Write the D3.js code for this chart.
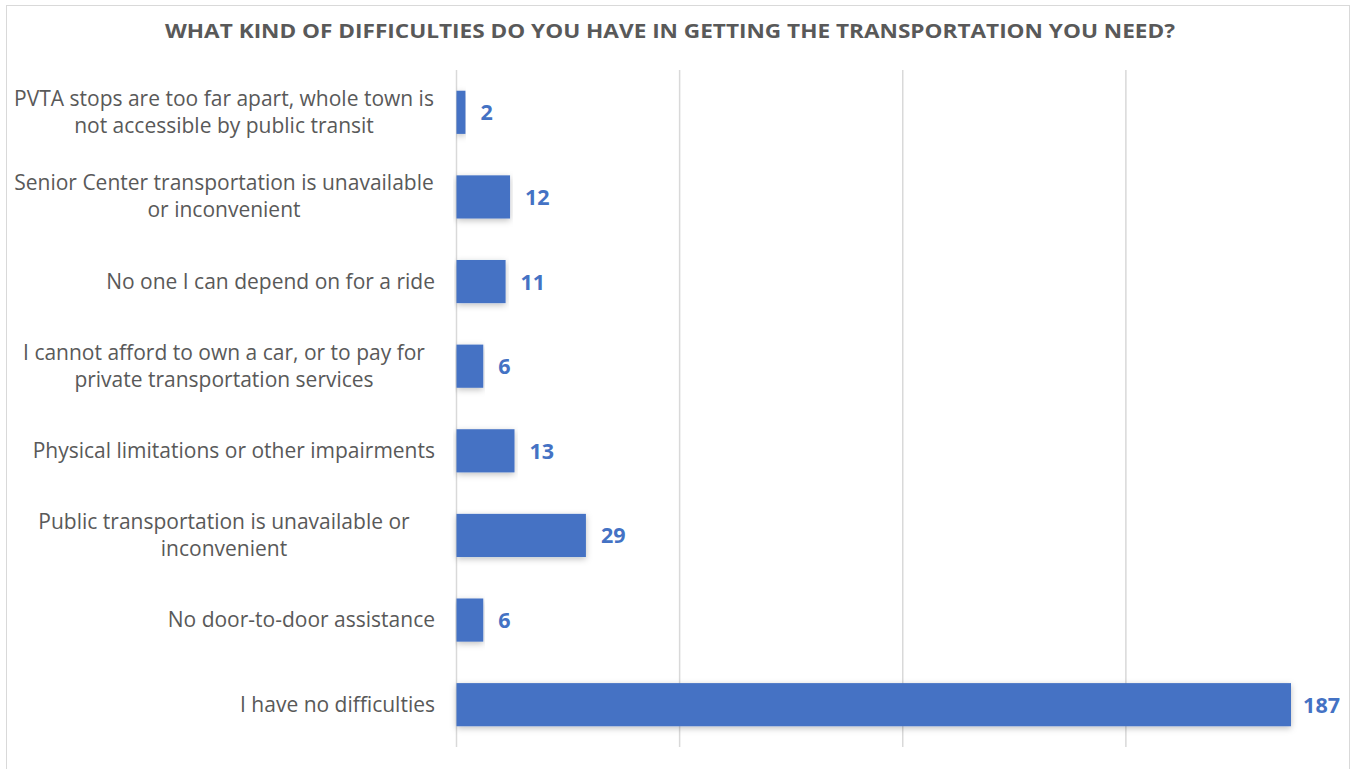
<!DOCTYPE html>
<html><head><meta charset="utf-8">
<script src="https://cdn.jsdelivr.net/npm/d3@7"></script>
<style>body{margin:0;background:#fff}svg{display:block}</style>
</head><body>
<svg id="c" width="1354" height="769"></svg>
<script>
const categories = [
  ["PVTA stops are too far apart, whole town is", "not accessible by public transit"],
  ["Senior Center transportation is unavailable", "or inconvenient"],
  ["No one I can depend on for a ride"],
  ["I cannot afford to own a car, or to pay for", "private transportation services"],
  ["Physical limitations or other impairments"],
  ["Public transportation is unavailable or", "inconvenient"],
  ["No door-to-door assistance"],
  ["I have no difficulties"]
];
const values = [2, 12, 11, 6, 13, 29, 6, 187];
const ticks = [0, 50, 100, 150, 200];
const title = "WHAT KIND OF DIFFICULTIES DO YOU HAVE IN GETTING THE TRANSPORTATION YOU NEED?";

const svg = d3.select("#c");
const font = "'Open Sans', 'Noto Sans', sans-serif";
svg.append("rect").attr("x",6.5).attr("y",5.5).attr("width",1343).attr("height",780)
  .attr("fill","#fff").attr("stroke","#d9d9d9");

const defs = svg.append("defs");
const f = defs.append("filter").attr("id","sh").attr("x","-5%").attr("y","-40%").attr("width","110%").attr("height","180%");
f.append("feDropShadow").attr("dx",0).attr("dy",2).attr("stdDeviation",3).attr("flood-color","#000").attr("flood-opacity",0.25);

const x = d3.scaleLinear().domain([0,200]).range([456.5,1349]);
const y = d3.scaleBand().domain(d3.range(categories.length)).range([70,747]).paddingInner(0.49).paddingOuter(0.245);

svg.append("g").selectAll("line").data(ticks.slice(0,4)).join("line")
  .attr("x1",d=>x(d)).attr("x2",d=>x(d)).attr("y1",70).attr("y2",747)
  .attr("stroke","#d9d9d9").attr("stroke-width",1.5);

svg.append("text").attr("x",670).attr("y",38).attr("text-anchor","middle")
  .attr("font-family",font).attr("font-weight","bold").attr("font-size",19.5)
  .attr("fill","#595959").attr("textLength",1010).attr("lengthAdjust","spacingAndGlyphs").text(title);

svg.append("g").selectAll("rect").data(values).join("rect")
  .attr("x",x(0)).attr("y",(d,i)=>y(i)).attr("height",y.bandwidth())
  .attr("width",d=>x(d)-x(0)).attr("fill","#4472C4").attr("filter","url(#sh)");

svg.append("g").selectAll("text").data(values).join("text")
  .attr("y",(d,i)=>y(i)+y.bandwidth()/2+8)
  .attr("font-family",font).attr("font-weight","bold").attr("font-size",21.5)
  .attr("fill","#4472C4").text(d=>d)
  .attr("x",function(d){ const w=this.getComputedTextLength(); return Math.min(x(d)+15, 1340-w); });

const lab = svg.append("g").selectAll("text").data(categories).join("text")
  .attr("text-anchor","middle").attr("font-family",font).attr("font-size",21).attr("fill","#595959")
  .attr("x",224);
lab.each(function(lines,i){
  const t=d3.select(this);
  const cy=y(i)+y.bandwidth()/2;
  const n=lines.length;
  lines.forEach((s,k)=>{
    t.append("tspan").attr("x", n===1?null:224).attr("y", cy+7+(k-(n-1)/2)*27).text(s);
  });
  if(n===1){t.attr("text-anchor","end").attr("x",435); t.select("tspan").attr("x",435);}
});
</script>
</body></html>
